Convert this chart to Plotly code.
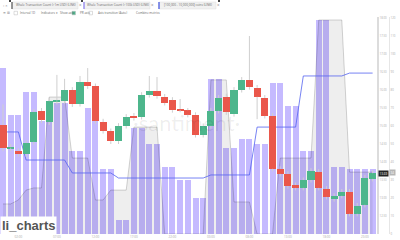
import plotly.graph_objects as go

W, H = 400, 240

# ---------------- data ----------------
candle_idx = list(range(49))
opens = [15.03, 14.38, 14.31, 14.22, 14.56, 15.42, 15.11, 15.68, 15.69, 16.00,
         15.61, 16.22, 16.11, 15.11, 14.86, 14.58, 15.00, 15.28, 15.25, 15.86,
         15.97, 15.81, 15.72, 15.47, 15.44, 15.31, 14.75, 15.00, 15.42, 15.81,
         15.33, 16.00, 16.28, 16.06, 15.78, 15.28, 13.81, 13.67, 13.36, 13.28,
         13.50, 13.72, 13.25, 12.97, 13.06, 13.17, 12.56, 12.81, 13.53]
closes = [14.39, 14.41, 14.22, 14.53, 15.39, 15.17, 15.69, 15.71, 16.00, 15.61,
          16.22, 16.11, 15.14, 14.86, 14.58, 15.00, 15.25, 15.22, 15.86, 15.97,
          15.83, 15.64, 15.44, 15.44, 15.31, 14.75, 15.00, 15.42, 15.78, 15.39,
          16.00, 16.28, 16.08, 15.81, 15.28, 13.81, 13.67, 13.33, 13.28, 13.50,
          13.75, 13.28, 13.03, 13.06, 13.17, 12.56, 12.78, 13.56, 13.69]
highs = [15.60, 14.50, 14.38, 14.60, 15.47, 15.50, 15.78, 16.42, 16.31, 16.08,
         16.39, 16.61, 16.18, 15.20, 14.93, 15.08, 15.33, 15.36, 15.94, 16.39,
         16.36, 15.89, 15.80, 15.75, 15.50, 15.38, 15.07, 15.50, 15.86, 15.90,
         16.08, 16.36, 17.50, 16.14, 15.86, 15.36, 13.88, 13.74, 13.43, 13.57,
         13.83, 13.80, 13.33, 13.13, 13.25, 13.25, 12.86, 13.64, 13.77]
lows = [14.30, 14.30, 14.15, 14.15, 14.48, 15.08, 15.03, 15.60, 15.62, 15.53,
        15.54, 16.03, 15.06, 14.79, 14.50, 14.50, 14.93, 15.15, 15.18, 15.79,
        15.76, 15.57, 15.37, 15.38, 15.24, 14.68, 14.68, 14.93, 15.35, 15.31,
        15.26, 15.93, 16.01, 15.19, 15.21, 13.74, 13.60, 13.26, 13.21, 13.21,
        13.43, 13.21, 12.96, 12.90, 12.99, 12.49, 12.49, 12.74, 13.46]

# Whale Transaction Count (>1m USD) -> grey area
whale_1m = [16.7, 16.7, 18.9, 24.4, 25.6, 25.6, 76.1, 76.1, 76.1, 42.2,
            42.2, 42.2, 18.9, 18.9, 24.4, 24.4, 24.4, 59.4, 59.4, 59.4,
            59.4, 0, 0, 0, 0, 0, 0, 85.6, 85.6, 85.6,
            17.8, 17.8, 17.8, 0, 0, 0, 42.2, 42.2, 42.2, 42.2,
            42.2, 118.9, 118.9, 118.9, 118.9, 34.4, 34.4, 34.4, 34.4]
# Whale Transaction Count (>100k USD) -> purple bars
whale_100k = [92, 66, 66, 79, 79, 63, 63, 73, 73, 46,
              46, 70, 70, 36, 36, 8, 8, 59, 59, 50,
              50, 37, 37, 30, 30, 20, 20, 86, 86, 48,
              48, 53, 53, 50, 50, 84, 84, 71, 71, 46,
              46, 119, 119, 37, 37, 36, 36, 36, 36]
# [100,000 - 10,000,000] coins -> blue line
coins_band = [56.7, 56.7, 56.7, 41.1, 41.1, 41.1, 41.1, 41.1, 41.1, 33.9,
              33.9, 33.9, 33.9, 33.9, 33.9, 31.1, 31.1, 31.1, 31.1, 31.1,
              31.1, 31.1, 31.1, 31.1, 31.1, 31.1, 31.1, 32.8, 32.8, 32.8,
              32.8, 32.8, 32.8, 59.4, 59.4, 59.4, 59.4, 59.4, 59.4, 87.8,
              87.8, 87.8, 87.8, 87.8, 87.8, 89.4, 89.4, 89.4, 89.4]

x_tick_idx = [2, 7, 12, 17, 22, 27, 32, 37, 42, 47]
x_tick_labels = ["02:00", "07:00", "12:00", "17:00", "22:00",
                 "03:00", "08:00", "13:00", "18:00", "23:00"]
price_ticks = [12.5, 13.0, 13.5, 14.0, 14.5, 15.0, 15.5, 16.0, 16.5, 17.0, 17.5, 18.0]
count_ticks = [0, 10, 20, 30, 40, 50, 60, 70, 80, 90, 100, 110, 120]

legend_labels = ["Whale Transaction Count (>1m USD) (LINK)",
                 "Whale Transaction Count (>100k USD) (LINK)",
                 "[100,000 - 10,000,000] coins (LINK)"]
toolbar_labels = ["Interval 1D", "Indicators ▾", "Show axis", "PR axis",
                  "Axis transition (Auto)", "Combine metrics"]

# ---------------- figure ----------------
GREEN = "#4db68c"
RED = "#ea574b"

fig = go.Figure()

fig.add_trace(go.Bar(x=candle_idx, y=whale_100k, width=0.78,
                     marker=dict(color="rgba(150,130,255,0.55)", line=dict(width=0)),
                     yaxis="y", hoverinfo="skip"))
fig.add_trace(go.Scatter(x=candle_idx, y=whale_1m, mode="lines", fill="tozeroy",
                         fillcolor="rgba(0,0,0,0.065)",
                         line=dict(color="rgba(0,0,0,0.17)", width=1),
                         yaxis="y", hoverinfo="skip"))
fig.add_trace(go.Scatter(x=candle_idx, y=coins_band, mode="lines",
                         line=dict(color="rgba(85,100,240,0.8)", width=1),
                         yaxis="y", hoverinfo="skip"))

body_col = [GREEN if c >= o else RED for o, c in zip(opens, closes)]
fig.add_trace(go.Bar(x=candle_idx, y=[c - o for o, c in zip(opens, closes)], base=opens,
                     width=0.92, marker=dict(color=body_col, line=dict(width=0)),
                     yaxis="y2", hoverinfo="skip"))
wx, wy = [], []
for i, o, c, h, l in zip(candle_idx, opens, closes, highs, lows):
    wx += [i, i, None, i, i, None]
    wy += [max(o, c), h, None, min(o, c), l, None]
fig.add_trace(go.Scatter(x=wx, y=wy, mode="lines",
                         line=dict(color="#cfcfcf", width=1),
                         yaxis="y2", hoverinfo="skip"))

XDOM = 377 / W


def px(x):
    return x / W


def py(y):
    return (234 - y) / 217


shapes = []
annotations = []
tiny = dict(family="Open Sans", size=3.0, color="#666")

# legend row 1
boxes = [(12, 78, "#555555"), (84, 150, "#8a7cf0"), (159, 216, "#3d4fe0")]
for (x0, x1, col), lab in zip(boxes, legend_labels):
    shapes.append(dict(type="rect", xref="paper", yref="paper", x0=px(x0), x1=px(x1),
                       y0=py(9), y1=py(2), fillcolor="#f1f1f1",
                       line=dict(color="#dddddd", width=0.5), layer="above"))
    shapes.append(dict(type="line", xref="paper", yref="paper", x0=px(x0), x1=px(x0),
                       y0=py(9), y1=py(2), line=dict(color=col, width=1.2), layer="above"))
    annotations.append(dict(text=lab, x=px((x0 + x1) / 2 + 0.5), y=py(5.5), xref="paper",
                            yref="paper", showarrow=False, font=tiny,
                            xanchor="center", yanchor="middle"))
    annotations.append(dict(text="×", x=px(x1 + 2.5), y=py(5.5), xref="paper",
                            yref="paper", showarrow=False,
                            font=dict(family="Open Sans", size=4.5, color="#888"),
                            xanchor="center", yanchor="middle"))
for hx in (10, 82, 219):
    shapes.append(dict(type="rect", xref="paper", yref="paper", x0=px(hx - 1), x1=px(hx + 1),
                       y0=py(2), y1=py(0), fillcolor="#444", line=dict(width=0), layer="above"))
annotations.append(dict(text="‹ ×", x=px(1), y=py(5.5), xref="paper", yref="paper",
                        showarrow=False, font=dict(family="Open Sans", size=4, color="#888"),
                        xanchor="left", yanchor="middle"))

# toolbar row 2
annotations.append(dict(text="≡ ⊞", x=px(1), y=py(13), xref="paper", yref="paper",
                        showarrow=False, font=dict(family="DejaVu Sans", size=3.4, color="#777"),
                        xanchor="left", yanchor="middle"))
tb_pos = [18, 39, 58, 78, 96, 134]
for lab, x0 in zip(toolbar_labels, tb_pos):
    annotations.append(dict(text=lab, x=px(x0), y=py(13), xref="paper", yref="paper",
                            showarrow=False, font=tiny, xanchor="left", yanchor="middle"))
for x0, fill in ((14, "#ffffff"), (72, "#4db68c"), (89, "#ffffff")):
    shapes.append(dict(type="rect", xref="paper", yref="paper", x0=px(x0), x1=px(x0 + 3.5),
                       y0=py(14.8), y1=py(11.3), fillcolor=fill,
                       line=dict(color="#bbbbbb", width=0.5), layer="above"))

# watermark
annotations.append(dict(text="·santiment·", x=px(186), y=py(122), xref="paper", yref="paper",
                        showarrow=False,
                        font=dict(family="Lato", size=22, color="rgba(0,0,0,0.07)"),
                        xanchor="center", yanchor="middle"))

# current value labels
annotations.append(dict(text=f"{closes[-1]:.2f}", x=px(378), y=closes[-1], xref="paper",
                        yref="y2", showarrow=False, bgcolor="#222222",
                        font=dict(family="Open Sans", size=3.0, color="white"),
                        xanchor="left", yanchor="middle", borderpad=0.5))
annotations.append(dict(text=f"{whale_1m[-1]:.0f}", x=px(389), y=whale_1m[-1], xref="paper",
                        yref="y", showarrow=False, bgcolor="#b5b5b5",
                        font=dict(family="Open Sans", size=3.0, color="white"),
                        xanchor="left", yanchor="middle", borderpad=0.5))

# li_charts label
annotations.append(dict(text="<b>li_charts</b>", x=0, y=py(235), xref="paper", yref="paper",
                        showarrow=False, bgcolor="white",
                        font=dict(family="Liberation Sans", size=13, color="#555555"),
                        xanchor="left", yanchor="bottom", borderpad=1))

fig.update_layout(
    width=W, height=H,
    margin=dict(l=0, r=0, t=17, b=6),
    paper_bgcolor="white", plot_bgcolor="white",
    showlegend=False, barmode="overlay", bargap=0,
    font=dict(family="Open Sans", color="#999"),
    xaxis=dict(domain=[0, XDOM], range=[-0.39, 48.57], showgrid=False, zeroline=False,
               showline=False, tickvals=x_tick_idx, ticktext=x_tick_labels,
               tickfont=dict(size=3.0, color="#aaa"), ticks="", anchor="y"),
    yaxis=dict(range=[0, 217 / 1.8], side="right", anchor="free", position=389 / W,
               showgrid=False, zeroline=False, showline=True, linecolor="#e6e6e6",
               linewidth=1, tickvals=count_ticks, tickfont=dict(size=2.8, color="#aaa"),
               ticks=""),
    yaxis2=dict(range=[12.0, 12.0 + 217 / 36], side="right", overlaying="y", anchor="x",
                showgrid=False, zeroline=False, showline=True, linecolor="#dcdcdc",
                linewidth=2, tickvals=price_ticks,
                ticktext=[f"{v:.2f}" for v in price_ticks],
                tickfont=dict(size=2.8, color="#aaa"), ticks=""),
    shapes=shapes, annotations=annotations,
)

fig.write_html("out.html")
